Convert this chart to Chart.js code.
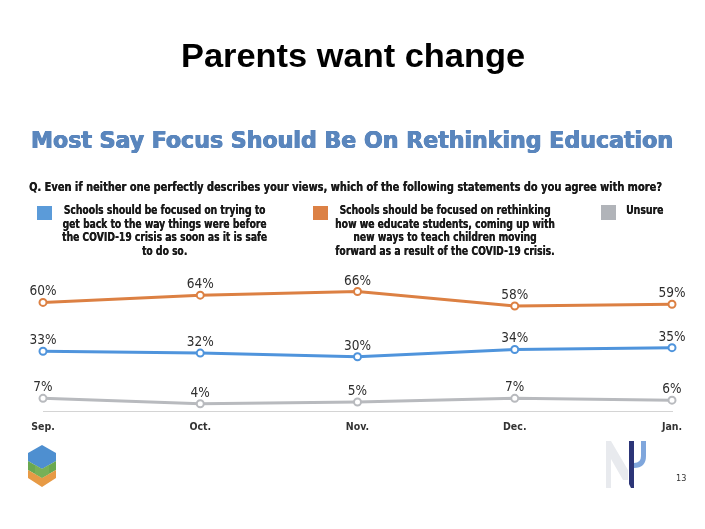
<!DOCTYPE html>
<html lang="en">
<head>
  <meta charset="UTF-8" />
  <meta name="viewport" content="width=device-width, initial-scale=1.0" />
  <title>Parents want change</title>
  <script src="https://cdn.jsdelivr.net/npm/chart.js"></script>
  <style>
    html, body { margin: 0; padding: 0; background: #fff; }
    #slide {
      position: relative;
      width: 705px;
      height: 529px;
      overflow: hidden;
      font-family: "DejaVu Sans Condensed", "DejaVu Sans", sans-serif;
      color: #222;
    }
    #grafico { position: absolute; left: 0; top: 0; }
    .txt {
      position: absolute;
      white-space: nowrap;
      transform-origin: 0 0;
    }
    .titulo {
      font-family: "Liberation Sans", Arial, sans-serif;
      font-weight: bold;
      font-size: 33px;
      line-height: 33px;
      color: #000;
      left: 181px; top: 39px;
    }
    .encabezado {
      font-weight: bold;
      font-size: 23px;
      line-height: 23px;
      color: #5a86bd;
      text-shadow: 0.5px 0 0 #5a86bd, -0.5px 0 0 #5a86bd, 0 0.4px 0 #5a86bd;
      left: 31px; top: 129px;
    }
    .pregunta {
      font-weight: bold;
      font-size: 11.5px;
      line-height: 11.5px;
      color: #1a1a1a;
      text-shadow: 0.3px 0 0 #1a1a1a;
      left: 29px; top: 182px;
    }
    .leyenda {
      font-weight: bold;
      font-size: 11.5px;
      line-height: 13.5px;
      color: #1a1a1a;
      text-shadow: 0.3px 0 0 #1a1a1a;
      text-align: center;
      top: 204px;
    }
    .caja { position: absolute; width: 15px; height: 14px; }
    .pagina {
      position: absolute;
      font-size: 9px;
      color: #333;
      left: 676px; top: 473px;
    }
    svg { position: absolute; left: 0; top: 0; }
  </style>
</head>
<body>
  <div id="slide">
    <canvas id="grafico" width="705" height="529"></canvas>

    <div class="txt titulo" data-w="344">Parents want change</div>
    <div class="txt encabezado" data-w="642">Most Say Focus Should Be On Rethinking Education</div>
    <div class="txt pregunta" data-w="633">Q. Even if neither one perfectly describes your views, which of the following statements do you agree with more?</div>

    <div class="caja" style="left:37px; top:206px; background:#5b9bd9;"></div>
    <div class="txt leyenda" style="left:62px;" data-w="205">Schools should be focused on trying to<br>get back to the way things were before<br>the COVID-19 crisis as soon as it is safe<br>to do so.</div>

    <div class="caja" style="left:313px; top:206px; background:#dc8145;"></div>
    <div class="txt leyenda" style="left:335px;" data-w="220">Schools should be focused on rethinking<br>how we educate students, coming up with<br>new ways to teach children moving<br>forward as a result of the COVID-19 crisis.</div>

    <div class="caja" style="left:601px; top:205px; height:15px; background:#b1b4b9;"></div>
    <div class="txt leyenda" style="left:626px;" data-w="37">Unsure</div>

    <svg width="705" height="529">
      <!-- logo izquierdo -->
      <polygon points="42,445 56,453 56,461 42,469 28,461 28,453" fill="#4e8fd0" />
      <polygon points="28,461 42,469 56,461 56,470 42,478 28,470" fill="#6aa850" />
      <polygon points="28,470 42,478 56,470 56,478 42,487 28,478" fill="#e79a45" />
      <polygon points="42,469 49,465 49,474 42,478 35,474 35,465" fill="#7fb35a" opacity="0.7" />
      <!-- logo derecho -->
      <polygon points="606,441 611,441 628,470 628,480 623,480 611,459 611,488 606,488" fill="#e8eaee" />
      <polygon points="629,441 634,441 634,488 631,488 629,484" fill="#2c3577" />
      <path d="M641,441 L646,441 L646,456 Q646,468 634,468 L634,463 Q641,463 641,456 Z" fill="#7fa6dc" />
    </svg>
    <div class="pagina">13</div>
  </div>

  <script>
    const months = ['Sep.', 'Oct.', 'Nov.', 'Dec.', 'Jan.'];
    const rethinking = [60, 64, 66, 58, 59];
    const backToBefore = [33, 32, 30, 34, 35];
    const unsure = [7, 4, 5, 7, 6];

    // ajustar ancho de los textos
    document.querySelectorAll('[data-w]').forEach(el => {
      const w = parseFloat(el.dataset.w);
      el.style.transform = 'scaleX(' + (w / el.offsetWidth) + ')';
    });

    const fuente = '"DejaVu Sans Condensed", "DejaVu Sans", sans-serif';

    const etiquetas = {
      id: 'etiquetas',
      afterDatasetsDraw(chart) {
        const ctx = chart.ctx;
        ctx.save();
        ctx.font = '13.5px ' + fuente;
        ctx.fillStyle = '#2e2e2e';
        ctx.textAlign = 'center';
        ctx.textBaseline = 'alphabetic';
        chart.data.datasets.forEach((ds, i) => {
          chart.getDatasetMeta(i).data.forEach((pt, j) => {
            ctx.fillText(ds.data[j] + '%', pt.x, pt.y - 7);
          });
        });
        ctx.restore();
      }
    };

    function serie(label, data, color) {
      return {
        label: label,
        data: data,
        borderColor: color,
        backgroundColor: '#fff',
        borderWidth: 3,
        pointRadius: 3.5,
        pointBorderWidth: 2,
        pointBackgroundColor: '#fff',
        pointBorderColor: color,
        tension: 0,
        clip: false
      };
    }

    const ctx = document.getElementById('grafico').getContext('2d');
    new Chart(ctx, {
      type: 'line',
      data: {
        labels: months,
        datasets: [
          serie('Rethinking', rethinking, '#dc8043'),
          serie('Back to before', backToBefore, '#4f94dc'),
          serie('Unsure', unsure, '#b8babe')
        ]
      },
      options: {
        responsive: false,
        animation: false,
        layout: { padding: { left: 43, right: 33, top: 230, bottom: 0 } },
        plugins: {
          legend: { display: false },
          tooltip: { enabled: false }
        },
        scales: {
          x: {
            grid: { display: false, drawTicks: false },
            border: { display: true, color: '#d4d4d4', width: 1 },
            ticks: {
              color: '#333',
              font: { family: fuente, size: 10.5, weight: 'bold' },
              padding: 10,
              maxRotation: 0,
              autoSkip: false
            },
            afterFit: s => { s.height = 118; }
          },
          y: { display: false, min: 0, max: 100 }
        }
      },
      plugins: [etiquetas]
    });
  </script>
</body>
</html>
